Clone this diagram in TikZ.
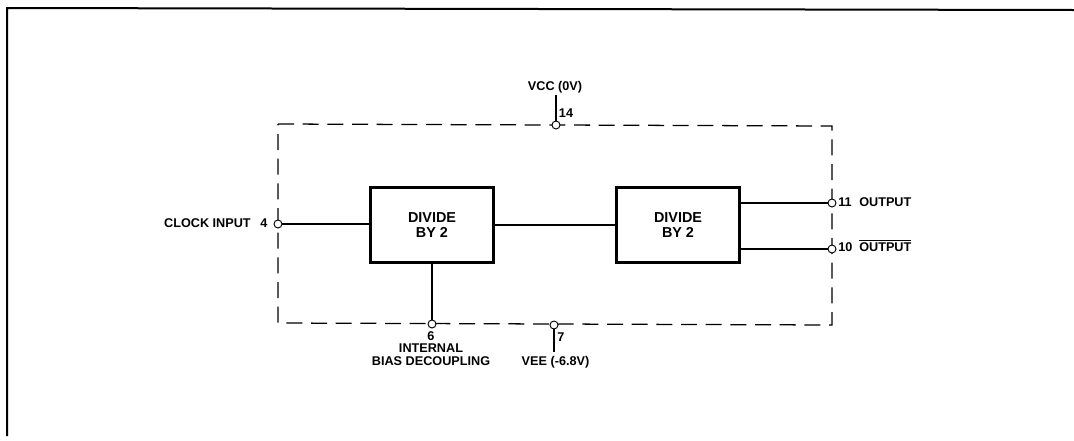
\documentclass[tikz,border=0pt]{standalone}
\usepackage{fontspec}
\setmainfont{Liberation Sans}
\tikzset{
  block/.style={draw,line width=1.9pt,inner sep=0pt,minimum width=92pt,minimum height=56.5pt,align=center,font=\fontsize{10.8}{11.3}\selectfont\bfseries},
  pin/.style={draw,circle,fill=white,inner sep=0pt,minimum size=6pt,line width=0.7pt},
  lbl/.style={inner sep=0pt,align=center,font=\fontsize{9.5}{9.3}\selectfont\bfseries},
  wire/.style={line width=0.8pt},
  package/.style={line width=0.95pt,dash pattern=on 12pt off 6.5pt}
}
\begin{document}
\begin{tikzpicture}[x=0.75pt,y=-0.75pt]
            \useasboundingbox (0,0) rectangle (1074,440);
            % outer frame
            \draw[line width=1.5pt] (7,436) -- (7,8) -- (1074,10);
            % dashed package outline
            \draw[package] (278,124) -- (832,126) -- (832,325) -- (278,323) -- cycle;

            \node[block] (div1) at (432,225) {DIVIDE\\BY 2};
            \node[block] (div2) at (678,225) {DIVIDE\\BY 2};

            \node[pin] (p4) at (278,224) {};
            \node[pin] (p6) at (432,324) {};
            \node[pin] (p14) at (556,125) {};
            \node[pin] (p7) at (554,325) {};
            \node[pin] (p11) at (832,203) {};
            \node[pin] (p10) at (832,249) {};

            \coordinate (vcc) at (556,95);
            \coordinate (vee) at (554,352);

            \draw[wire] (p4) -- (div1.west |- p4);
            \draw[wire] (div1.east |- 0,225) -- (div2.west |- 0,225);
            \draw[wire,line width=1.4pt] (div1.south) -- (p6);
            \draw[wire] (div2.east |- p11) -- (p11);
            \draw[wire] (div2.east |- p10) -- (p10);
            \draw[wire] (p14) -- (vcc);
            \draw[wire] (p7) -- (vee);

            \node[lbl] (vcct) at (555,87) {VCC (0V)};
            \node[lbl] (n14) at (566,113) {14};
            \node[lbl] (n7) at (561,337) {7};
            \node[lbl] (veet) at (555.5,362) {VEE (-6.8V)};
            \node[lbl] (n4) at (264,223) {4};
            \node[lbl,anchor=east] (clk) at (251,223) {CLOCK INPUT};
            \node[lbl] (n6) at (431,336) {6};
            \node[lbl] (intl) at (431,354.5) {INTERNAL\\BIAS DECOUPLING};
            \node[lbl,anchor=west] (n11) at (838,202) {11};
            \node[lbl,anchor=west] (out) at (859,202) {OUTPUT};
            \node[lbl,anchor=west] (n10) at (838,247) {10};
            \node[lbl,anchor=west] (outb) at (859,245.5) {$\overline{\hbox{OUTPUT}}$};
\end{tikzpicture}
\end{document}
